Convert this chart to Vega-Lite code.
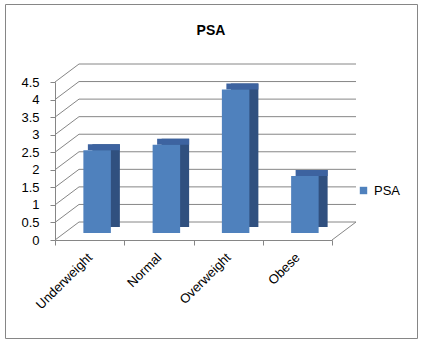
{
  "$schema": "https://vega.github.io/schema/vega-lite/v6.json",
  "width": 412,
  "height": 334,
  "autosize": {"type": "none"},
  "padding": {"left": 5, "top": 4, "right": 4, "bottom": 4},
  "background": "white",
  "config": {
    "view": {"stroke": "#868686", "strokeWidth": 1},
    "font": "Liberation Sans",
    "axis": {"labelOverlap": false, "title": null},
    "axisY": {"tickCount": 10, "labelOverlap": false}
  },
  "title": {
    "text": "PSA",
    "fontSize": 14,
    "fontWeight": "bold",
    "font": "Liberation Sans",
    "color": "#000000",
    "offset": -34,
    "anchor": "middle"
  },
  "datasets": {
    "psa": [
      {"category": "Underweight", "value": 2.36},
      {"category": "Normal", "value": 2.51},
      {"category": "Overweight", "value": 4.09},
      {"category": "Obese", "value": 1.62}
    ],
    "grid": [
      {"v": 0}, {"v": 0.5}, {"v": 1}, {"v": 1.5}, {"v": 2},
      {"v": 2.5}, {"v": 3}, {"v": 3.5}, {"v": 4}, {"v": 4.5}
    ]
  },
  "layer": [
    {
      "data": {"name": "grid"},
      "mark": {"type": "rule", "color": "#868686", "strokeWidth": 1, "xOffset": 24, "x2Offset": 24, "yOffset": -18},
      "encoding": {
        "x": {"datum": "Underweight", "type": "nominal", "bandPosition": 0, "title": null},
        "x2": {"datum": "Obese", "bandPosition": 1},
        "y": {"field": "v", "type": "quantitative", "title": null}
      }
    },
    {
      "data": {"name": "grid"},
      "mark": {"type": "rule", "color": "#868686", "strokeWidth": 1, "x2Offset": 24, "y2Offset": -18},
      "encoding": {
        "x": {"datum": "Underweight", "type": "nominal", "bandPosition": 0, "title": null},
        "x2": {"datum": "Underweight", "bandPosition": 0},
        "y": {"field": "v", "type": "quantitative", "title": null},
        "y2": {"field": "v"}
      }
    },
    {
      "data": {"values": [{"v": 0}]},
      "mark": {"type": "rule", "color": "#868686", "strokeWidth": 1, "x2Offset": 24, "y2Offset": -18},
      "encoding": {
        "x": {"datum": "Obese", "type": "nominal", "bandPosition": 1, "title": null},
        "x2": {"datum": "Obese", "bandPosition": 1},
        "y": {"field": "v", "type": "quantitative", "title": null},
        "y2": {"field": "v"}
      }
    },
    {
      "data": {"name": "psa"},
      "mark": {"type": "bar", "color": "#30507F", "size": 27.5, "xOffset": 16.5, "yOffset": -13, "y2Offset": -13},
      "encoding": {
        "x": {"field": "category", "type": "nominal", "sort": null, "title": null},
        "y": {"field": "value", "type": "quantitative", "title": null}
      }
    },
    {
      "data": {"name": "psa"},
      "mark": {"type": "bar", "color": "#3D63A0", "size": 32, "xOffset": 14.25, "yOffset": -13, "y2Offset": -7},
      "encoding": {
        "x": {"field": "category", "type": "nominal", "sort": null, "title": null},
        "y": {"field": "value", "type": "quantitative", "title": null},
        "y2": {"field": "value"}
      }
    },
    {
      "data": {"name": "psa"},
      "mark": {"type": "bar", "size": 27.5, "xOffset": 7.5, "yOffset": -7, "y2Offset": -7},
      "encoding": {
        "x": {
          "field": "category",
          "type": "nominal",
          "sort": null,
          "title": null,
          "scale": {"domain": ["Underweight", "Normal", "Overweight", "Obese"], "range": [50, 327], "paddingInner": 0, "paddingOuter": 0},
          "axis": {
            "orient": "bottom",
            "offset": -98,
            "tickBand": "extent",
            "domainColor": "#868686",
            "tickColor": "#868686",
            "tickSize": 5,
            "labelAngle": -45,
            "labelFont": "Liberation Sans",
            "labelFontSize": 13,
            "labelColor": "#000000",
            "labelPadding": 10,
            "labelOverlap": false,
            "grid": false
          }
        },
        "y": {
          "field": "value",
          "type": "quantitative",
          "title": null,
          "scale": {"domain": [0, 4.5], "range": [236, 78], "nice": false, "zero": true},
          "axis": {
            "orient": "left",
            "offset": -50,
            "values": [0, 0.5, 1, 1.5, 2, 2.5, 3, 3.5, 4, 4.5],
            "tickCount": 10,
            "format": "~g",
            "labelOverlap": false,
            "domainColor": "#868686",
            "tickColor": "#868686",
            "tickSize": 5,
            "labelFont": "Liberation Sans",
            "labelFontSize": 13,
            "labelColor": "#000000",
            "labelPadding": 11,
            "grid": false
          }
        },
        "color": {
          "datum": "PSA",
          "type": "nominal",
          "scale": {"range": ["#4F81BD"]},
          "legend": {
            "title": null,
            "orient": "none",
            "legendX": 352,
            "legendY": 180,
            "symbolType": "square",
            "symbolSize": 55,
            "symbolStrokeWidth": 0,
            "labelFont": "Liberation Sans",
            "labelFontSize": 13,
            "labelColor": "#000000"
          }
        }
      }
    }
  ]
}
